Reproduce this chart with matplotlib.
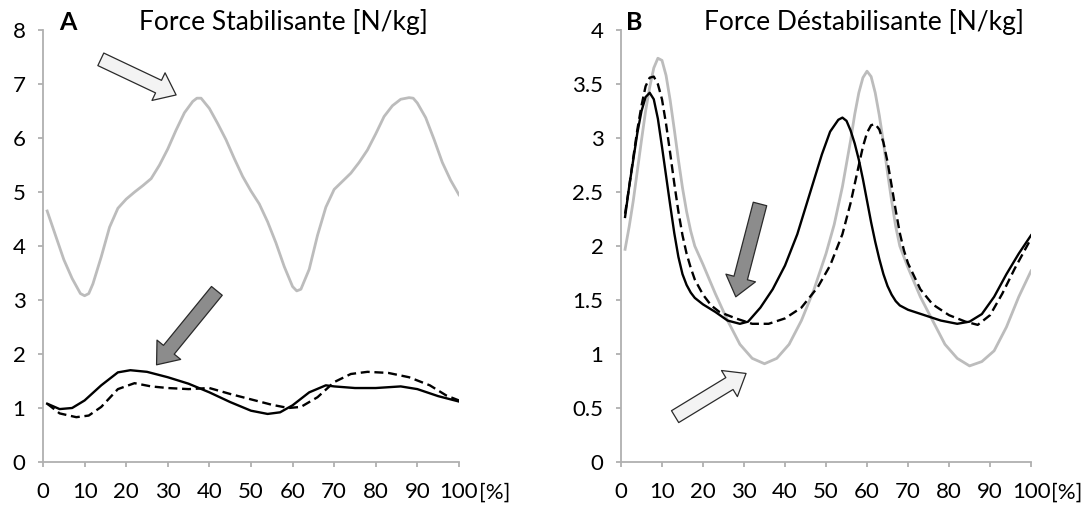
import matplotlib
matplotlib.use('Agg')
import matplotlib.pyplot as plt
from matplotlib.patches import FancyArrowPatch
from matplotlib.ticker import FormatStrFormatter

plt.rcParams['font.family'] = ['Lato', 'DejaVu Sans']

# --- panel A: stabilising force ---
a_gray_x = [1, 3, 5, 7, 9, 10, 11, 12, 14, 16, 18, 20, 22, 24, 26, 28, 30, 32, 34, 36, 37, 38, 40, 42, 44, 46, 48, 50, 52, 54, 56, 58, 60, 61, 62, 64, 66, 68, 70, 72, 74, 76, 78, 80, 82, 84, 86, 88, 89, 90, 92, 94, 96, 98, 100]
a_gray_y = [4.65, 4.2, 3.75, 3.40, 3.12, 3.08, 3.12, 3.3, 3.8, 4.35, 4.7, 4.87, 5.0, 5.12, 5.25, 5.5, 5.8, 6.15, 6.47, 6.68, 6.74, 6.74, 6.55, 6.27, 5.97, 5.62, 5.29, 5.02, 4.78, 4.45, 4.06, 3.62, 3.25, 3.17, 3.2, 3.57, 4.2, 4.72, 5.05, 5.2, 5.35, 5.55, 5.78, 6.08, 6.4, 6.6, 6.72, 6.75, 6.74, 6.65, 6.38, 5.98, 5.55, 5.22, 4.95]
a_blk_x = [1, 4, 7, 10, 14, 18, 21, 25, 30, 35, 40, 45, 50, 54, 57, 60, 64, 68, 70, 75, 80, 86, 90, 95, 100]
a_blk_y = [1.08, 0.98, 1.0, 1.14, 1.42, 1.66, 1.70, 1.67, 1.57, 1.45, 1.29, 1.11, 0.95, 0.89, 0.92, 1.05, 1.29, 1.42, 1.40, 1.37, 1.37, 1.40, 1.35, 1.22, 1.12]
a_dsh_x = [1, 4, 8, 11, 14, 18, 22, 26, 30, 35, 40, 45, 50, 55, 59, 62, 66, 70, 74, 78, 83, 88, 93, 97, 100]
a_dsh_y = [1.08, 0.90, 0.83, 0.86, 1.02, 1.35, 1.46, 1.40, 1.37, 1.35, 1.37, 1.26, 1.16, 1.06, 1.0, 1.02, 1.2, 1.48, 1.63, 1.67, 1.65, 1.57, 1.42, 1.23, 1.14]

# --- panel B: destabilising force ---
b_gray_x = [1, 2, 3, 4, 5, 6, 7, 8, 9, 10, 11, 12, 13, 14, 15, 16, 17, 18, 20, 23, 26, 29, 32, 35, 38, 41, 44, 47, 50, 52, 54, 56, 57, 58, 59, 60, 61, 62, 63, 64, 65, 66, 67, 68, 70, 73, 76, 79, 82, 85, 88, 91, 94, 97, 100]
b_gray_y = [1.97, 2.18, 2.42, 2.70, 2.98, 3.25, 3.47, 3.65, 3.74, 3.72, 3.58, 3.35, 3.08, 2.80, 2.54, 2.32, 2.14, 2.00, 1.83, 1.56, 1.31, 1.09, 0.96, 0.91, 0.96, 1.09, 1.31, 1.59, 1.93, 2.20, 2.55, 2.98, 3.22, 3.42, 3.56, 3.62, 3.57, 3.42, 3.21, 2.96, 2.68, 2.42, 2.18, 2.00, 1.80, 1.53, 1.31, 1.09, 0.96, 0.89, 0.93, 1.03, 1.25, 1.53, 1.77]
b_blk_x = [1, 2, 3, 4, 5, 6, 7, 8, 9, 10, 11, 12, 13, 14, 15, 16, 17, 18, 20, 23, 26, 29, 31, 34, 37, 40, 43, 46, 49, 51, 53, 54, 55, 56, 57, 58, 59, 60, 61, 62, 63, 64, 65, 66, 67, 68, 70, 74, 78, 82, 85, 88, 91, 94, 97, 100]
b_blk_y = [2.27, 2.55, 2.80, 3.05, 3.25, 3.38, 3.42, 3.36, 3.18, 2.92, 2.65, 2.38, 2.12, 1.90, 1.74, 1.64, 1.57, 1.52, 1.46, 1.39, 1.31, 1.28, 1.30, 1.43, 1.60, 1.82, 2.11, 2.48, 2.85, 3.06, 3.17, 3.19, 3.16, 3.07, 2.95, 2.80, 2.62, 2.42, 2.22, 2.04, 1.88, 1.74, 1.63, 1.55, 1.49, 1.45, 1.41, 1.36, 1.31, 1.28, 1.30, 1.37, 1.53, 1.74, 1.93, 2.10]
b_dsh_x = [1, 2, 3, 4, 5, 6, 7, 8, 9, 10, 11, 12, 13, 14, 15, 16, 17, 18, 20, 22, 24, 28, 32, 36, 40, 44, 48, 51, 54, 56, 58, 59, 60, 61, 62, 63, 64, 65, 66, 67, 68, 69, 70, 73, 76, 80, 84, 87, 90, 93, 96, 100]
b_dsh_y = [2.30, 2.55, 2.82, 3.08, 3.30, 3.48, 3.56, 3.57, 3.50, 3.36, 3.13, 2.86, 2.58, 2.32, 2.10, 1.93, 1.80, 1.69, 1.55, 1.45, 1.39, 1.33, 1.28, 1.28, 1.33, 1.43, 1.62, 1.82, 2.11, 2.40, 2.75, 2.92, 3.05, 3.12, 3.13, 3.08, 2.96, 2.78, 2.56, 2.33, 2.12, 1.96, 1.84, 1.60, 1.46, 1.36, 1.30, 1.27, 1.36, 1.56, 1.79, 2.07]

GRAY = '#bcbcbc'
AXC = '#b0b0b0'
FS = 16

fig = plt.figure(figsize=(10.86, 5.08), dpi=100)
axA = fig.add_axes([0.0396, 0.0906, 0.383, 0.850])
axB = fig.add_axes([0.5718, 0.0906, 0.3776, 0.850])

def style(ax, ymax, ystep):
    ax.set_xlim(0, 100); ax.set_ylim(0, ymax)
    ax.set_xticks(range(0, 101, 10))
    ax.set_yticks([i * ystep for i in range(int(round(ymax / ystep)) + 1)])
    ax.yaxis.set_major_formatter(FormatStrFormatter('%g'))
    for s in ['top', 'right']:
        ax.spines[s].set_visible(False)
    for s in ['left', 'bottom']:
        ax.spines[s].set_color(AXC); ax.spines[s].set_linewidth(1.3)
    ax.tick_params(colors=AXC, labelcolor='black', labelsize=FS, length=3.6, width=1.3, direction='out')
    ax.tick_params(axis='x', pad=11)
    ax.tick_params(axis='y', pad=9)
    ax.annotate('[%]', xy=(1, 0), xycoords='axes fraction', xytext=(14.5, -14.6),
                textcoords='offset points', fontsize=FS, va='top', ha='left')

def arrow(ax, tail, tip, face):
    ax.add_patch(FancyArrowPatch(tail, tip, arrowstyle='simple,head_width=22,head_length=14,tail_width=10',
                                 mutation_scale=1, fc=face, ec='#2a2a2a', lw=0.9, shrinkA=0, shrinkB=0,
                                 clip_on=False, zorder=5))

for ax, ymax, ystep, series in [
        (axA, 8, 1, [(a_gray_x, a_gray_y), (a_blk_x, a_blk_y), (a_dsh_x, a_dsh_y)]),
        (axB, 4, 0.5, [(b_gray_x, b_gray_y), (b_blk_x, b_blk_y), (b_dsh_x, b_dsh_y)])]:
    style(ax, ymax, ystep)
    (gx, gy), (kx, ky), (dx, dy) = series
    ax.plot(gx, gy, color=GRAY, lw=2.0, solid_joinstyle='round')
    ax.plot(kx, ky, color='black', lw=1.7, solid_joinstyle='round')
    ax.plot(dx, dy, color='black', lw=1.7, dashes=(3.8, 2), dash_joinstyle='round')

arrow(axA, (13.9, 7.46), (32.0, 6.80), '#f3f3f3')
arrow(axA, (41.8, 3.17), (27.3, 1.80), '#8c8c8c')
arrow(axB, (33.9, 2.39), (28.0, 1.53), '#8c8c8c')
arrow(axB, (13.2, 0.42), (30.5, 0.82), '#f3f3f3')

ty = 1 - 22 / 508
fig.text(68 / 1086, ty, 'A', fontsize=18, fontweight='bold', va='center', ha='center')
fig.text(283 / 1086, ty, 'Force Stabilisante [N/kg]', fontsize=19, va='center', ha='center')
fig.text(634 / 1086, ty, 'B', fontsize=18, fontweight='bold', va='center', ha='center')
fig.text(864 / 1086, ty, 'Force Déstabilisante [N/kg]', fontsize=19, va='center', ha='center')

fig.savefig('out.png', dpi=100)
